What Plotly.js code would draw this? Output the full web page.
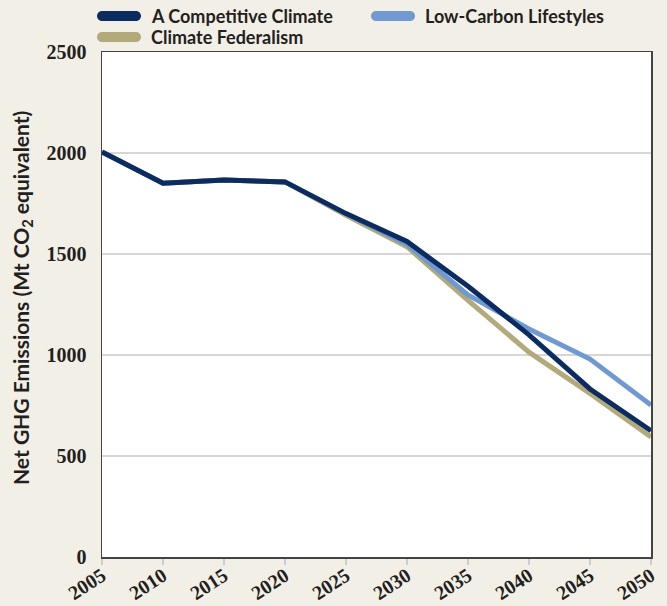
<!DOCTYPE html>
<html>
<head>
<meta charset="utf-8">
<script src="https://cdn.plot.ly/plotly-3.0.1.min.js"></script>
<style>html,body{margin:0;padding:0;background:#f2efe7;}</style>
</head>
<body>
<div id="chart" style="width:667px;height:606px;"></div>
<script>
const years = [2005, 2010, 2015, 2020, 2025, 2030, 2035, 2040, 2045, 2050];
const competitive = [2005, 1850, 1866, 1857, 1700, 1562, 1340, 1100, 832, 625];
const lowCarbon = [2005, 1850, 1866, 1857, 1700, 1548, 1297, 1129, 980, 752];
const federalism = [2005, 1850, 1866, 1857, 1692, 1536, 1270, 1014, 810, 594];
const seriesNames = ["A Competitive Climate", "Low-Carbon Lifestyles", "Climate Federalism"];
const seriesColors = ["#0b2b61", "#7199d1", "#b3aa7c"];
const yTicks = [0, 500, 1000, 1500, 2000, 2500];

const traces = [
  {x: years, y: federalism, name: seriesNames[2], color: seriesColors[2]},
  {x: years, y: lowCarbon, name: seriesNames[1], color: seriesColors[1]},
  {x: years, y: competitive, name: seriesNames[0], color: seriesColors[0]}
].map(s => ({
  x: s.x, y: s.y, name: s.name, type: 'scatter', mode: 'lines',
  line: {color: s.color, width: 5, simplify: false},
  showlegend: false, hoverinfo: 'x+y'
}));

// manual legend: rounded pill symbols + text
function pill(xpx, ypx, color) {
  const w = 44, h = 10, r = 5, k = r * 0.5523;
  const p = `M ${r},${h/2} L ${w-r},${h/2} C ${w-r+k},${h/2} ${w},${k} ${w},0 C ${w},${-k} ${w-r+k},${-h/2} ${w-r},${-h/2} L ${r},${-h/2} C ${r-k},${-h/2} 0,${-k} 0,0 C 0,${k} ${r-k},${h/2} ${r},${h/2} Z`;
  return {type: 'path', xref: 'paper', yref: 'paper', xsizemode: 'pixel', ysizemode: 'pixel',
    xanchor: xpx, yanchor: ypx, path: p, fillcolor: color, line: {width: 0}, layer: 'above'};
}
const L = 102, T = 52, W = 549, H = 505;
const px = x => (x - L) / W;
const py = y => (T + H - y) / H;
const legendPos = [[97, 16], [371, 16], [97, 37]];
const shapes = legendPos.map((p, i) => pill(px(p[0]), py(p[1]), seriesColors[i]));
const legendFont = {family: 'Lato, "Open Sans", sans-serif', size: 18, color: '#231f20'};
const annotations = legendPos.map((p, i) => ({
  xref: 'paper', yref: 'paper', x: px(p[0] + 52), y: py(p[1]), xanchor: 'left', yanchor: 'middle',
  text: '<b>' + seriesNames[i] + '</b>', showarrow: false, font: legendFont
}));
annotations.push({
  xref: 'paper', yref: 'paper', x: px(22), y: py(298), xanchor: 'center', yanchor: 'middle',
  textangle: -90, showarrow: false,
  text: '<b>Net GHG Emissions (Mt CO<sub>2</sub> equivalent)</b>',
  font: {family: 'Lato, "Open Sans", sans-serif', size: 21, color: '#231f20'}
});

const tickFont = {family: '"Liberation Serif", "Times New Roman", serif', size: 20, color: '#231f20', weight: 'bold'};
const layout = {
  width: 667, height: 606,
  paper_bgcolor: '#f2efe7', plot_bgcolor: '#ffffff',
  margin: {l: L, r: 667 - L - W, t: T, b: 606 - T - H, pad: 0},
  showlegend: false,
  xaxis: {
    range: [2005, 2050], tickvals: years, ticktext: years.map(String),
    tickangle: -33, tickfont: tickFont, ticks: 'outside', ticklen: 6, tickcolor: '#c9ccd3', tickwidth: 1.5,
    ticklabelstandoff: -8,
    showgrid: false, zeroline: false, showline: true, linecolor: '#444444', linewidth: 1.5, mirror: true,
    automargin: false
  },
  yaxis: {
    range: [0, 2500], tickvals: yTicks, ticktext: yTicks.map(String), tickfont: tickFont,
    ticks: '', ticklabelstandoff: 10,
    showgrid: true, gridcolor: '#d6d6d6', gridwidth: 1.5, zeroline: false,
    showline: true, linecolor: '#444444', linewidth: 1.5, mirror: true, automargin: false
  },
  shapes: shapes,
  annotations: annotations
};
Plotly.newPlot('chart', traces, layout, {displayModeBar: false, staticPlot: true});
</script>
</body>
</html>
